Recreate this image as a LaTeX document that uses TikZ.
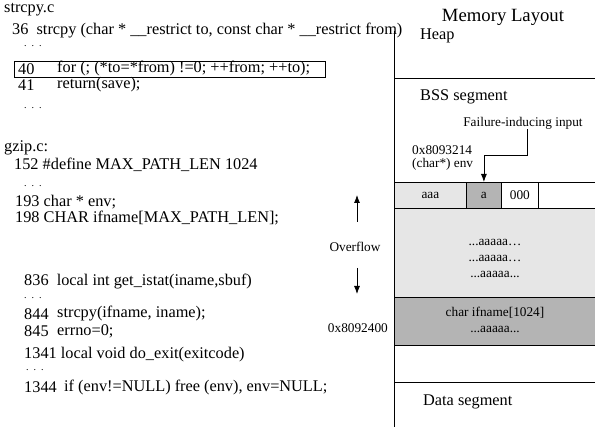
\documentclass[tikz,border=0pt]{standalone}
\usepackage{fontspec}
\setmainfont{Liberation Serif}
\usetikzlibrary{arrows.meta}
\definecolor{lightg}{RGB}{230,230,230}
\definecolor{darkg}{RGB}{180,180,180}
\begin{document}
\begin{tikzpicture}[x=1pt,y=-1pt,
  code/.style={anchor=west,inner sep=0pt,font=\fontsize{16.3}{18}\selectfont},
  dots/.style={anchor=west,inner sep=0pt,font=\fontsize{10}{11}\selectfont},
  small/.style={inner sep=0pt,font=\fontsize{13.3}{15}\selectfont},
  seg/.style={anchor=west,inner sep=0pt,font=\fontsize{16.3}{18}\selectfont},
  cell/.style={draw,line width=0.8pt,minimum height=26pt,inner sep=0pt,font=\fontsize{13.3}{15}\selectfont},
  arr/.style={-{Latex[length=8pt,width=6pt]},line width=0.8pt},
  ln/.style={line width=0.8pt}]
\useasboundingbox (0,0) rectangle (595,427);
% code
\node[code] (f1) at (4,10) {strcpy.c};
\node[code] (l36) at (12,31) {36\ \ strcpy (char * \_\_restrict to, const char * \_\_restrict from)};
\node[dots] (d1) at (24,46) {.\ \ .\ \ .};
\node[code] (l40) at (18,69) {40};
\node[code] (l40b) at (57,69) {for (; (*to=*from) !=0; ++from; ++to);};
\node[draw,line width=0.8pt,inner sep=0pt,minimum width=311pt,minimum height=16pt,anchor=north west] (box40) at (14,61) {};
\node[code] (l41) at (18,85) {41};
\node[code] (l41b) at (57,85) {return(save);};
\node[dots] (d2) at (24,108) {.\ \ .\ \ .};
\node[code] (f2) at (4,148) {gzip.c:};
\node[code] (l152) at (14,165) {152 \#define MAX\_PATH\_LEN 1024};
\node[dots] (d3) at (24,186) {.\ \ .\ \ .};
\node[code] (l193) at (15,202) {193 char * env;};
\node[code] (l198) at (15,218) {198 CHAR ifname[MAX\_PATH\_LEN];};
\node[code] (l836) at (24,282) {836\ \ local int get\_istat(iname,sbuf)};
\node[dots] (d4) at (24,298) {.\ \ .\ \ .};
\node[code] (l844) at (24,314) {844};
\node[code] (l844b) at (57,314) {strcpy(ifname, iname);};
\node[code] (l845) at (24,331) {845};
\node[code] (l845b) at (57,331) {errno=0;};
\node[code] (l1341) at (24,355) {1341 local void do\_exit(exitcode)};
\node[dots] (d5) at (26,370) {.\ \ .\ \ .};
\node[code] (l1344) at (24,387) {1344};
\node[code] (l1344b) at (64,387) {if (env!=NULL) free (env), env=NULL;};
% memory fills
\fill[lightg] (394,208) rectangle (595,297);
\fill[darkg] (394,297) rectangle (595,345);
% memory lines
\draw[ln] (394,31) -- (394,427);
\foreach \yy in {78,182,208,297,345,382} \draw[ln] (394,\yy) -- (595,\yy);
\node[cell,fill=lightg,minimum width=72pt,anchor=north west] (caaa) at (394,182) {aaa};
\node[cell,fill=darkg,minimum width=35pt,anchor=north west] (ca) at (466,182) {a};
\node[cell,fill=white,minimum width=37pt,anchor=north west] (c000) at (501,182) {000};
% labels
\node[inner sep=0pt,font=\fontsize{18.7}{21}\selectfont] (title) at (503,17) {Memory Layout};
\node[seg] (heap) at (420,36) {Heap};
\node[seg] (bss) at (420,97) {BSS segment};
\node[small] (fail) at (523,123) {Failure-inducing input};
\node[small,anchor=west] (addr1) at (412,150) {0x8093214};
\node[small,anchor=west] (env) at (412,164) {(char*) env};
\node[small,align=center] (g1) at (495,258) {...aaaaa\ldots\\[1pt]...aaaaa\ldots\\[1pt]...aaaaa...};
\node[small,align=center] (g2) at (495,320) {char ifname[1024]\\[1pt]...aaaaa...};
\node[seg] (data) at (423,402) {Data segment};
\node[small,anchor=east] (addr2) at (388,328) {0x8092400};
\node[small] (ovf) at (355,247) {Overflow};
\coordinate (up) at (357,195);
\coordinate (down) at (357,294);
\draw[arr] (357,222) -- (up);
\draw[arr] (357,268) -- (down);
\draw[arr] (fail.south -| 527,0) -- (527,155) -- (ca.north |- 0,155) -- (ca.north);
\end{tikzpicture}
\end{document}
